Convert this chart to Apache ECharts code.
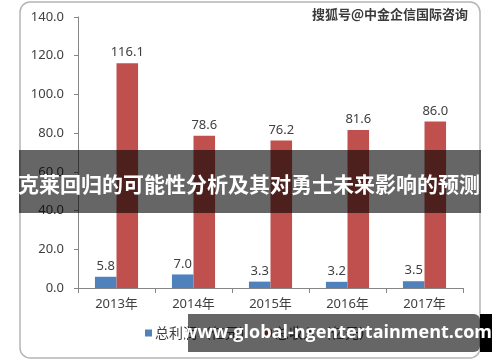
<!DOCTYPE html>
<html>
<head>
<meta charset="utf-8">
<script src="https://cdn.jsdelivr.net/npm/echarts@6/dist/echarts.min.js"></script>
<style>html,body{margin:0;padding:0;background:#fff;}#c{width:500px;height:362px;}</style>
</head>
<body>
<div id="c"></div>
<script>
const categories = ['2013年', '2014年', '2015年', '2016年', '2017年'];
const profit = [5.8, 7.0, 3.3, 3.2, 3.5];
const revenue = [116.1, 78.6, 76.2, 81.6, 86.0];
const seriesNames = ['总利润（亿元）', '总收入（亿元）'];
const yTicks = { min: 0, max: 140, interval: 20 };
const titleText = '克莱回归的可能性分析及其对勇士未来影响的预测';
const watermark = '搜狐号@中金企信国际咨询';
const siteText = 'www.global-ngentertainment.com';

const chart = echarts.init(document.getElementById('c'));
const font = "'Noto Sans', 'Noto Sans CJK SC', sans-serif";
const labelStyle = { show: true, position: 'top', color: '#404040', fontSize: 13, fontFamily: font, formatter: p => p.value.toFixed(1), distance: 4 };
chart.setOption({
  animation: false,
  grid: { left: 78, right: 37, top: 17, bottom: 74 },
  legend: {
    left: 140, top: 321, itemWidth: 7, itemHeight: 7, itemGap: 12,
    icon: 'rect',
    textStyle: { fontSize: 14, color: '#404040', fontFamily: "'Noto Sans CJK SC', sans-serif", padding: [0,0,0,-2] },
    data: seriesNames
  },
  xAxis: {
    type: 'category', data: categories,
    axisLine: { lineStyle: { color: '#868686' } },
    axisTick: { show: true, length: 5, lineStyle: { color: '#868686' } },
    axisLabel: { color: '#404040', fontSize: 13, fontFamily: font, margin: 10 }
  },
  yAxis: {
    type: 'value', min: yTicks.min, max: yTicks.max, interval: yTicks.interval,
    axisLine: { show: true, lineStyle: { color: '#868686' } },
    axisTick: { show: true, length: 4, lineStyle: { color: '#868686' } },
    splitLine: { show: false },
    axisLabel: { color: '#404040', fontSize: 13, fontFamily: font, margin: 14, formatter: v => v.toFixed(1) }
  },
  series: [
    { name: seriesNames[0], type: 'bar', data: profit, itemStyle: { color: '#4f81bd' }, barGap: '0%', barCategoryGap: '44%', label: labelStyle },
    { name: seriesNames[1], type: 'bar', data: revenue, itemStyle: { color: '#c0504d' }, label: labelStyle }
  ],
  graphic: [
    { type: 'rect', z: 100, silent: true, shape: { x: 20, y: 2, width: 460, height: 356, r: 10 }, style: { fill: 'none', stroke: '#b5b5b5', lineWidth: 1.5 } },
    { type: 'text', z: 101, x: 468, y: 14, style: { text: watermark, fill: '#3a3a3a', stroke: '#ffffff', lineWidth: 1, font: "bold 13px 'Noto Sans CJK SC'", textAlign: 'right', textVerticalAlign: 'middle' } },
    { type: 'rect', z: 102, shape: { x: 19, y: 150, width: 462, height: 63 }, style: { fill: 'rgba(0,0,0,0.6)' } },
    { type: 'text', z: 103, x: 249, y: 184, style: { text: titleText, fill: '#ffffff', font: "bold 21px 'Noto Sans CJK SC'", textAlign: 'center', textVerticalAlign: 'middle' } },
    { type: 'rect', z: 102, shape: { x: 480, y: 314, width: 12, height: 38 }, style: { fill: '#000000' } },
    { type: 'rect', z: 102, shape: { x: 188, y: 314, width: 292, height: 38, r: [0, 6, 6, 0] }, style: { fill: 'rgba(0,0,0,0.6)' } },
    { type: 'text', z: 103, x: 337, y: 333, style: { text: siteText, fill: '#ffffff', font: "bold 18px 'Open Sans', 'Noto Sans', sans-serif", textAlign: 'center', textVerticalAlign: 'middle' } }
  ]
});
</script>
</body>
</html>
